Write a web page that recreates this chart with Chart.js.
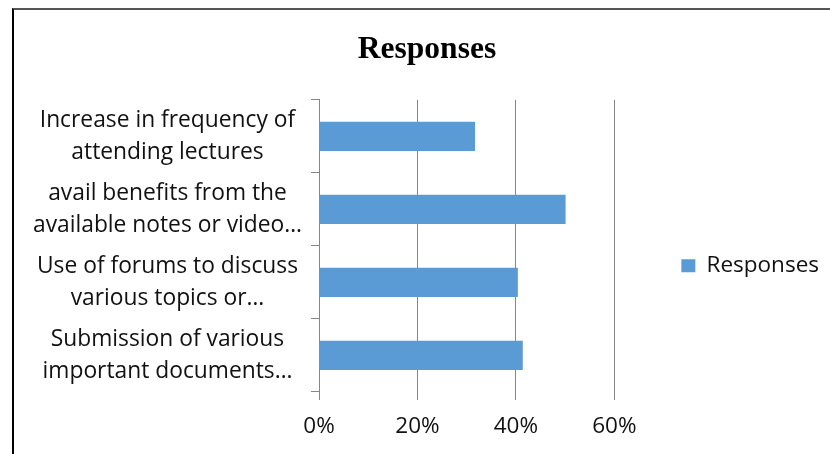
<!DOCTYPE html>
<html>
<head>
<meta charset="utf-8">
<script src="https://cdn.jsdelivr.net/npm/chart.js@4"></script>
<style>
  body { margin: 0; background: #fff; }
  #wrap { position: relative; width: 830px; height: 454px; }
  #frame { position: absolute; left: 12px; top: 8px; right: 0; bottom: 0;
           border-top: 2px solid #555; border-left: 2px solid #000; }
  canvas { position: absolute; left: 0; top: 0; }
</style>
</head>
<body>
<div id="wrap">
  <div id="frame"></div>
  <canvas id="chart" width="830" height="454"></canvas>
</div>
<script>
// survey answers, top to bottom
const categories = [
    ['Increase in frequency of', 'attending lectures'],
    ['avail benefits from the', 'available notes or video…'],
    ['Use of forums to discuss', 'various topics or…'],
    ['Submission of various', 'important documents…']
];
const responses = [31.7, 50.1, 40.4, 41.4];
const xTicks = [0, 20, 40, 60];

const labelFont = { family: 'Open Sans', size: 22.5 };
const gridColor = '#868686';

new Chart(document.getElementById('chart'), {
    type: 'bar',
    data: {
        labels: categories,
        datasets: [{
            label: 'Responses',
            data: responses,
            backgroundColor: '#5B9BD5',
            categoryPercentage: 0.4,
            barPercentage: 1
        }]
    },
    options: {
        indexAxis: 'y',
        responsive: false,
        animation: false,
        layout: { padding: { left: 25, right: 1, top: 10, bottom: 0 } },
        plugins: {
            tooltip: { enabled: false },
            title: {
                display: true,
                text: 'Responses',
                color: '#000',
                font: { family: 'Liberation Serif', size: 31.5, weight: 'bold', lineHeight: 1.2 },
                padding: { top: 21, bottom: 31 }
            },
            legend: {
                position: 'right',
                fullSize: false,
                maxWidth: 300,
                // empty title pushes the single entry down a little
                title: { display: true, text: '', padding: 0, font: { size: 33, lineHeight: 1.2 } },
                labels: {
                    boxWidth: 14,
                    boxHeight: 13,
                    padding: 67,
                    color: '#111',
                    font: labelFont
                }
            }
        },
        scales: {
            x: {
                min: 0,
                max: 60,
                afterBuildTicks: s => { s.ticks = xTicks.map(v => ({ value: v })); },
                afterFit: s => { s.height = 62; },
                border: { display: false },
                grid: { color: gridColor, tickLength: 8 },
                ticks: {
                    color: '#111',
                    font: labelFont,
                    padding: 13,
                    callback: v => v + '%'
                }
            },
            y: {
                afterFit: s => { s.width = 294; },
                border: { display: true, color: gridColor },
                grid: { drawOnChartArea: false, color: gridColor, tickLength: 8 },
                ticks: {
                    color: '#111',
                    font: { family: 'Open Sans', size: 22.8, lineHeight: 1.4 },
                    crossAlign: 'center',
                    padding: 9
                }
            }
        }
    }
});
</script>
</body>
</html>
